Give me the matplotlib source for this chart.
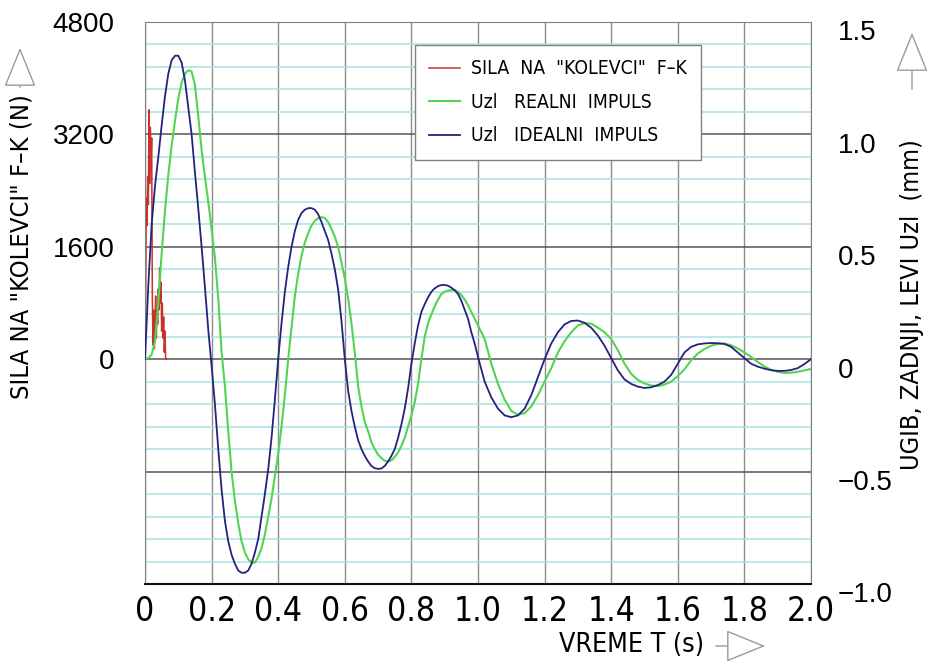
import os
import numpy as np
import matplotlib
matplotlib.use("Agg")
import matplotlib.pyplot as plt
from matplotlib import font_manager
from matplotlib.font_manager import FontProperties
from matplotlib.patches import FancyArrowPatch
import matplotlib.transforms as mtransforms

# force on the "kolevka" (N), left axis
t_force = [0.000, 0.002, 0.004, 0.006, 0.008, 0.010, 0.012, 0.014, 0.016, 0.018,
           0.020, 0.022, 0.024, 0.026, 0.028, 0.030, 0.032, 0.034, 0.036, 0.038,
           0.040, 0.042, 0.044, 0.046, 0.048, 0.050, 0.052, 0.054, 0.056, 0.058,
           0.060, 0.062, 0.064]
f_force = [0, 1000, 2300, 1900, 2600, 2200, 3550, 2500, 3300, 2700,
           3150, 900, 200, 700, 150, 500, 900, 300, 700, 500,
           1000, 700, 1300, 800, 1100, 400, 800, 300, 600, 100,
           400, 0, 0]

# sample times for the displacement curves
t_u = np.r_[np.arange(0, 101) * 0.01, 1.0 + np.arange(1, 51) * 0.02]

# Uzl, ideal impulse (mm)
u_ideal = [0.0, 0.33, 0.60, 0.77, 0.90, 1.04, 1.17, 1.27, 1.33, 1.35,
           1.35, 1.32, 1.24, 1.12, 1.00, 0.83, 0.67, 0.50, 0.32, 0.13,
           -0.03, -0.20, -0.40, -0.58, -0.72, -0.81, -0.87, -0.91, -0.94, -0.95,
           -0.95, -0.94, -0.91, -0.86, -0.80, -0.70, -0.60, -0.49, -0.35, -0.18,
           0.0, 0.16, 0.30, 0.41, 0.50, 0.57, 0.62, 0.65, 0.665, 0.672,
           0.672, 0.665, 0.645, 0.61, 0.57, 0.53, 0.47, 0.40, 0.31, 0.17,
           0.0, -0.14, -0.23, -0.30, -0.36, -0.40, -0.43, -0.455, -0.475, -0.485,
           -0.488, -0.486, -0.475, -0.455, -0.43, -0.40, -0.35, -0.29, -0.22, -0.13,
           -0.02, 0.07, 0.15, 0.21, 0.245, 0.275, 0.30, 0.315, 0.325, 0.33,
           0.33, 0.327, 0.318, 0.307, 0.29, 0.26, 0.22, 0.18, 0.12, 0.07,
           0.01,
           -0.10, -0.17, -0.22, -0.25, -0.258, -0.25, -0.22, -0.16, -0.08, 0.0,
           0.07, 0.12, 0.155, 0.17, 0.172, 0.162, 0.14, 0.105, 0.06, 0.005,
           -0.05, -0.09, -0.11, -0.122, -0.128, -0.125, -0.115, -0.10, -0.07, -0.02,
           0.03, 0.055, 0.066, 0.07, 0.072, 0.071, 0.068, 0.055, 0.03, 0.005,
           -0.02, -0.033, -0.042, -0.049, -0.052, -0.052, -0.048, -0.04, -0.022, 0.0]

# Uzl, real impulse (mm)
u_real = [0.0, 0.005, 0.02, 0.08, 0.25, 0.47, 0.66, 0.82, 0.95, 1.06,
          1.16, 1.23, 1.27, 1.285, 1.28, 1.22, 1.08, 0.93, 0.81, 0.70,
          0.58, 0.45, 0.27, 0.03, -0.12, -0.32, -0.50, -0.63, -0.73, -0.81,
          -0.86, -0.89, -0.905, -0.905, -0.88, -0.84, -0.78, -0.70, -0.62, -0.52,
          -0.42, -0.30, -0.16, 0.0, 0.14, 0.28, 0.38, 0.46, 0.52, 0.56,
          0.595, 0.615, 0.628, 0.632, 0.628, 0.61, 0.58, 0.545, 0.50, 0.43,
          0.36, 0.27, 0.16, 0.03, -0.12, -0.21, -0.28, -0.32, -0.37, -0.40,
          -0.425, -0.44, -0.452, -0.455, -0.45, -0.435, -0.415, -0.385, -0.35, -0.30,
          -0.25, -0.19, -0.11, 0.0, 0.10, 0.16, 0.20, 0.235, 0.265, 0.29,
          0.30, 0.305, 0.307, 0.307, 0.30, 0.285, 0.265, 0.24, 0.21, 0.18,
          0.15,
          0.09, -0.02, -0.11, -0.18, -0.23, -0.247, -0.24, -0.21, -0.16, -0.10,
          -0.04, 0.03, 0.08, 0.12, 0.15, 0.16, 0.158, 0.14, 0.12, 0.09,
          0.04, -0.02, -0.065, -0.092, -0.108, -0.117, -0.12, -0.113, -0.10, -0.075,
          -0.045, -0.005, 0.025, 0.045, 0.06, 0.068, 0.07, 0.062, 0.048, 0.03,
          0.01, -0.012, -0.032, -0.047, -0.056, -0.061, -0.06, -0.056, -0.05, -0.043]

x_ticks = [0, 0.2, 0.4, 0.6, 0.8, 1.0, 1.2, 1.4, 1.6, 1.8, 2.0]
x_labels = ['0', '0.2', '0.4', '0.6', '0.8', '1.0', '1.2', '1.4', '1.6', '1.8', '2.0']
left_ticks = [-3200, -1600, 0, 1600, 3200, 4800]
left_labels = ['', '', '0', '1600', '3200', '4800']
right_ticks = [-1.0, -0.5, 0, 0.5, 1.0, 1.5]
right_labels = ['\u22121.0', '\u22120.5', '0', '0.5', '1.0', '1.5']
legend_labels = ['SILA  NA  "KOLEVCI"  F\u2013K', 'Uzl   REALNI  IMPULS', 'Uzl   IDEALNI  IMPULS']

# pick a narrow face for the CAD-like lettering
files = set(f.fname for f in font_manager.fontManager.ttflist)
files |= set(font_manager.findSystemFonts())
wanted = ['liberationsansnarrow-regular', 'dejavusanscondensed.', 'robotocondensed-regular',
          'roboto_condensed-regular', 'opensans_condensed-regular', 'opensanscondensed-regular',
          'notosans-condensed.', 'notosans_condensed-regular', 'opensans-condregular']
narrow_file = None
for w in wanted:
    for f in sorted(files):
        if w in os.path.basename(f).lower().replace(' ', ''):
            narrow_file = f
            break
    if narrow_file:
        break
if narrow_file is None:
    for f in sorted(files):
        b = os.path.basename(f).lower()
        if ('condensed' in b or 'narrow' in b) and 'bold' not in b and 'italic' not in b \
                and 'light' not in b and 'oblique' not in b and 'semi' not in b:
            narrow_file = f
            break
NARROW = FontProperties(fname=narrow_file) if narrow_file else FontProperties(family='Roboto')
REG = FontProperties(family=['Liberation Sans', 'DejaVu Sans'])

W, H = 934, 671
fig = plt.figure(figsize=(W / 100, H / 100), dpi=100)
renderer = fig.canvas.get_renderer()


def fit(text, width_px, cap_pt):
    t = fig.text(0, 0, text, fontproperties=NARROW, fontsize=10)
    w = t.get_window_extent(renderer).width
    t.remove()
    return min(cap_pt, 10 * width_px / w)


s_xt = fit('0.2', 48, 26)
s_lab = fit('VREME T (s)', 145, 22)
s_left = fit('SILA NA "KOLEVCI" F\u2013K (N)', 305, 22)
s_right = fit('UGIB, ZADNJI, LEVI Uzl  (mm)', 330, 22)
s_leg = fit(legend_labels[0], 216, 17)

ax = fig.add_axes([145 / W, 1 - 584 / H, 666 / W, 562 / H])
ax2 = ax.twinx()

ax.set_xlim(0, 2.0)
ax.set_ylim(-3200, 4800)
ax2.set_ylim(-1.0, 1.5)

ax.set_xticks(x_ticks)
ax.set_xticklabels(x_labels, fontproperties=NARROW, fontsize=s_xt)
ax.set_yticks(left_ticks)
ax.set_yticklabels(left_labels, fontproperties=REG, fontsize=20)
ax.set_yticks(np.arange(-3200, 4801, 320), minor=True)
ax2.set_yticks(right_ticks)
ax2.set_yticklabels(right_labels, fontproperties=REG, fontsize=20)

ax.tick_params(which='both', length=0)
ax.tick_params(axis='y', pad=22)
ax.tick_params(axis='x', pad=8)
ax2.tick_params(length=0, pad=19)
off = mtransforms.ScaledTranslation(0, -6 / 72, fig.dpi_scale_trans)
for lab in ax2.get_yticklabels():
    lab.set_transform(lab.get_transform() + off)

ax.grid(which='minor', axis='y', color='#a9e2e6', lw=1.1)
ax.grid(which='major', axis='y', color='#555555', lw=1.1)
ax.grid(which='major', axis='x', color='#8c8c8c', lw=1.0)
ax.set_axisbelow(True)

for side in ['left', 'top', 'right']:
    ax.spines[side].set_color('#808080')
ax.spines['bottom'].set_color('#111111')
ax.spines['bottom'].set_linewidth(1.5)
for side in ax2.spines:
    ax2.spines[side].set_visible(False)

l_red, = ax.plot(t_force, f_force, color='#c8322a', lw=1.1)
l_green, = ax2.plot(t_u, u_real, color='#52d452', lw=1.5)
l_blue, = ax2.plot(t_u, u_ideal, color='#23237e', lw=1.3)

leg_prop = NARROW.copy()
leg_prop.set_size(s_leg)
leg = ax2.legend([l_red, l_green, l_blue], legend_labels,
                 loc='upper left', bbox_to_anchor=(415 / W, 1 - 45 / H),
                 bbox_transform=fig.transFigure, borderaxespad=0,
                 prop=leg_prop, fancybox=False,
                 edgecolor='#808080', framealpha=1, handlelength=1.6,
                 handletextpad=0.55, labelspacing=0.75, borderpad=0.75)
leg.get_frame().set_linewidth(1.0)

fig.text(22 / W, 1 - 247 / H, 'SILA NA "KOLEVCI" F\u2013K (N)', rotation=90,
         ha='center', va='center', fontproperties=NARROW, fontsize=s_left)
fig.text(912 / W, 1 - 305 / H, 'UGIB, ZADNJI, LEVI Uzl  (mm)', rotation=90,
         ha='center', va='center', fontproperties=NARROW, fontsize=s_right)
fig.text(632 / W, 1 - 645 / H, 'VREME T (s)', ha='center', va='center',
         fontproperties=NARROW, fontsize=s_lab)


def arrow(x0, y0, x1, y1):
    a = FancyArrowPatch((x0 / W, 1 - y0 / H), (x1 / W, 1 - y1 / H),
                        transform=fig.transFigure,
                        arrowstyle='-|>,head_length=1.6,head_width=0.65',
                        mutation_scale=16, facecolor='white',
                        edgecolor='#9a9a9a', lw=1.0)
    fig.add_artist(a)


arrow(20, 90, 20, 45)
arrow(912, 92, 912, 30)
arrow(713, 646, 768, 646)

fig.savefig('out.png', dpi=100)
